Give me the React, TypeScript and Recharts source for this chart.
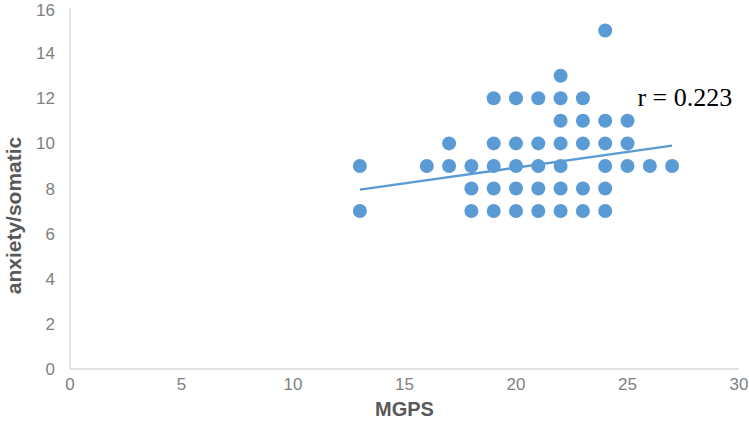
import React from 'react';
import { ScatterChart, Scatter, XAxis, YAxis, ReferenceDot } from 'recharts';

// observed (MGPS, anxiety/somatic) pairs, one entry per visible dot
const mgps = [
  13, 13,
  16,
  17, 17,
  18, 18, 18,
  19, 19, 19, 19, 19,
  20, 20, 20, 20, 20,
  21, 21, 21, 21, 21,
  22, 22, 22, 22, 22, 22, 22,
  23, 23, 23, 23, 23,
  24, 24, 24, 24, 24, 24,
  25, 25, 25,
  26,
  27,
];
const anxiety = [
  9, 7,
  9,
  10, 9,
  9, 8, 7,
  12, 10, 9, 8, 7,
  12, 10, 9, 8, 7,
  12, 10, 9, 8, 7,
  13, 12, 11, 10, 9, 8, 7,
  12, 11, 10, 8, 7,
  15, 11, 10, 9, 8, 7,
  11, 10, 9,
  9,
  9,
];
const trendX = [13, 27];
const trendY = [7.95, 9.9];
const xTicks = [0, 5, 10, 15, 20, 25, 30];
const yTicks = [0, 2, 4, 6, 8, 10, 12, 14, 16];
const rLabel = 'r = 0.223';
const rLabelAt = { x: 25.4, y: 12.05 };

const points = mgps.map((x, i) => ({ x, y: anxiety[i] }));
const trend = trendX.map((x, i) => ({ x, y: trendY[i] }));

const BLUE = '#5B9BD5';
const GRAY = '#595959';
const tickStyle = { fill: '#7F7F7F', fontSize: 17, fontFamily: '"Liberation Sans", Arial, sans-serif' };

const Dot = (props: any) => <circle cx={props.cx} cy={props.cy} r={7} fill={BLUE} />;
const NoShape = () => <g />;

export default function App() {
  return (
    <div style={{ position: 'absolute', left: 0, top: 0, background: '#fff' }}>
      <ScatterChart width={749} height={433} margin={{ top: 8, right: 10, bottom: 4, left: 0 }}>
        <XAxis
          type="number"
          dataKey="x"
          domain={[0, 30]}
          ticks={xTicks}
          tickLine={false}
          tickSize={0}
          tickMargin={9}
          axisLine={{ stroke: '#D9D9D9', strokeWidth: 1.5 }}
          tick={tickStyle}
          height={60}
          label={{ value: 'MGPS', position: 'insideBottom', offset: 13, fill: GRAY, fontSize: 20, fontWeight: 'bold', fontFamily: '"Liberation Sans", Arial, sans-serif' }}
        />
        <YAxis
          type="number"
          dataKey="y"
          domain={[0, 16]}
          ticks={yTicks}
          tickLine={false}
          tickSize={0}
          tickMargin={15}
          axisLine={{ stroke: '#D9D9D9', strokeWidth: 1.5 }}
          tick={tickStyle}
          width={70}
          label={{ value: 'anxiety/somatic', angle: -90, position: 'center', dx: -21, dy: 27, fill: GRAY, fontSize: 21, fontWeight: 'bold', fontFamily: '"Liberation Sans", Arial, sans-serif' }}
        />
        <Scatter data={points} shape={Dot} isAnimationActive={false} />
        <Scatter data={trend} line={{ stroke: BLUE, strokeWidth: 2.5 }} shape={NoShape} isAnimationActive={false} />
        <ReferenceDot
          x={rLabelAt.x}
          y={rLabelAt.y}
          r={1}
          fill="none"
          stroke="none"
          ifOverflow="visible"
          label={{ value: rLabel, position: 'right', offset: 0, fill: '#000', fontSize: 26, fontFamily: '"Liberation Serif", "Times New Roman", serif' }}
        />
      </ScatterChart>
    </div>
  );
}
